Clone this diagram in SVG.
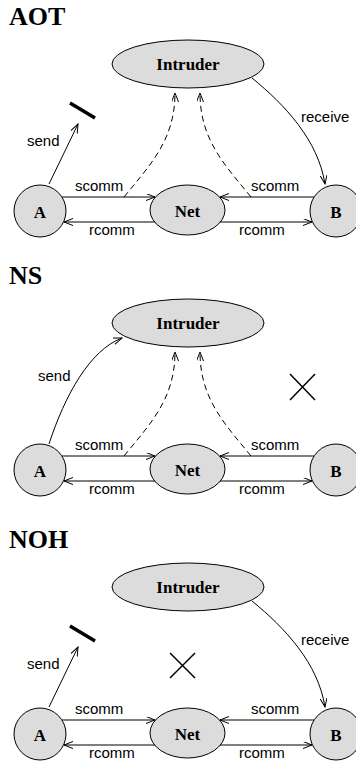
<svg xmlns="http://www.w3.org/2000/svg" width="356" height="762" viewBox="0 0 356 762">
<defs>
<style>
.title{font-family:"Liberation Serif","Times New Roman",serif;font-weight:bold;font-size:26px;fill:#000}
.nlab{font-family:"Liberation Serif","Times New Roman",serif;font-weight:bold;font-size:17px;fill:#000;text-anchor:middle}
.elab{font-family:"Liberation Sans",Arial,sans-serif;font-size:15px;fill:#000}
.node{fill:#dcdcdc;stroke:#000;stroke-width:1}
.edge{fill:none;stroke:#000;stroke-width:1;marker-end:url(#arr)}
.dash{fill:none;stroke:#000;stroke-width:1;stroke-dasharray:6 4;marker-end:url(#arr)}
.bar{stroke:#000;stroke-width:3.5;fill:none}
.cross{stroke:#000;stroke-width:1.5;fill:none}
</style>
<marker id="arr" markerWidth="10" markerHeight="8" refX="9" refY="3.5" orient="auto" markerUnits="userSpaceOnUse">
<path d="M0,0 L9,3.5 L0,7" fill="none" stroke="#000" stroke-width="1" stroke-dasharray="none"/>
</marker>
</defs>

<!-- AOT -->
<g id="aot">
<text class="title" x="9" y="25">AOT</text>
<g id="aot-connectors">
<path class="edge" d="M62,197 H155"/>
<path class="edge" d="M155,222 H64"/>
<path class="edge" d="M314,197 H220"/>
<path class="edge" d="M220,222 H312"/>
<path class="dash" d="M124,197 C150,165 175,140 175,93"/>
<path class="dash" d="M251,197 C225,165 200,140 200,93"/>
<path class="edge" d="M49,184 L78,124"/>
<path class="edge" d="M252,78 C285,105 318,140 325,184"/>
<line class="bar" x1="70" y1="103" x2="95" y2="118"/>
<text class="elab" x="75" y="191">scomm</text>
<text class="elab" x="89" y="235">rcomm</text>
<text class="elab" x="251" y="191">scomm</text>
<text class="elab" x="239" y="235">rcomm</text>
<text class="elab" x="27" y="146">send</text>
<text class="elab" x="301" y="122">receive</text>
</g>
<g id="aot-intruder"><ellipse class="node" cx="188" cy="64" rx="76" ry="24"/><text class="nlab" x="188" y="70">Intruder</text></g>
<g id="aot-a"><circle class="node" cx="40" cy="211" r="26"/><text class="nlab" x="40" y="218">A</text></g>
<g id="aot-net"><ellipse class="node" cx="187.5" cy="210" rx="37.5" ry="25"/><text class="nlab" x="187.5" y="217">Net</text></g>
<g id="aot-b"><circle class="node" cx="336" cy="211" r="26"/><text class="nlab" x="336" y="218">B</text></g>
</g>

<!-- NS -->
<g id="ns" transform="translate(0,259)">
<text class="title" x="9" y="25">NS</text>
<g id="ns-connectors">
<path class="edge" d="M62,197 H155"/>
<path class="edge" d="M155,222 H64"/>
<path class="edge" d="M314,197 H220"/>
<path class="edge" d="M220,222 H312"/>
<path class="dash" d="M124,197 C150,165 175,140 175,93"/>
<path class="dash" d="M251,197 C225,165 200,140 200,93"/>
<path class="edge" d="M49,185 C65,136 90,91 122,79"/>
<path class="cross" d="M290,115 L315,141 M315,115 L290,141"/>
<text class="elab" x="75" y="191">scomm</text>
<text class="elab" x="89" y="235">rcomm</text>
<text class="elab" x="251" y="191">scomm</text>
<text class="elab" x="239" y="235">rcomm</text>
<text class="elab" x="38" y="122">send</text>
</g>
<g id="ns-intruder"><ellipse class="node" cx="188" cy="64" rx="76" ry="24"/><text class="nlab" x="188" y="70">Intruder</text></g>
<g id="ns-a"><circle class="node" cx="40" cy="211" r="26"/><text class="nlab" x="40" y="218">A</text></g>
<g id="ns-net"><ellipse class="node" cx="187.5" cy="210" rx="37.5" ry="25"/><text class="nlab" x="187.5" y="217">Net</text></g>
<g id="ns-b"><circle class="node" cx="336" cy="211" r="26"/><text class="nlab" x="336" y="218">B</text></g>
</g>

<!-- NOH -->
<g id="noh" transform="translate(0,523)">
<text class="title" x="9" y="25">NOH</text>
<g id="noh-connectors">
<path class="edge" d="M62,197 H155"/>
<path class="edge" d="M155,222 H64"/>
<path class="edge" d="M314,197 H220"/>
<path class="edge" d="M220,222 H312"/>
<path class="edge" d="M49,184 L78,124"/>
<path class="edge" d="M252,78 C285,105 318,140 325,184"/>
<line class="bar" x1="70" y1="103" x2="95" y2="118"/>
<path class="cross" d="M170,130 L195,155 M195,130 L170,155"/>
<text class="elab" x="75" y="191">scomm</text>
<text class="elab" x="89" y="235">rcomm</text>
<text class="elab" x="251" y="191">scomm</text>
<text class="elab" x="239" y="235">rcomm</text>
<text class="elab" x="27" y="146">send</text>
<text class="elab" x="301" y="122">receive</text>
</g>
<g id="noh-intruder"><ellipse class="node" cx="188" cy="64" rx="76" ry="24"/><text class="nlab" x="188" y="70">Intruder</text></g>
<g id="noh-a"><circle class="node" cx="40" cy="211" r="26"/><text class="nlab" x="40" y="218">A</text></g>
<g id="noh-net"><ellipse class="node" cx="187.5" cy="210" rx="37.5" ry="25"/><text class="nlab" x="187.5" y="217">Net</text></g>
<g id="noh-b"><circle class="node" cx="336" cy="211" r="26"/><text class="nlab" x="336" y="218">B</text></g>
</g>
</svg>
